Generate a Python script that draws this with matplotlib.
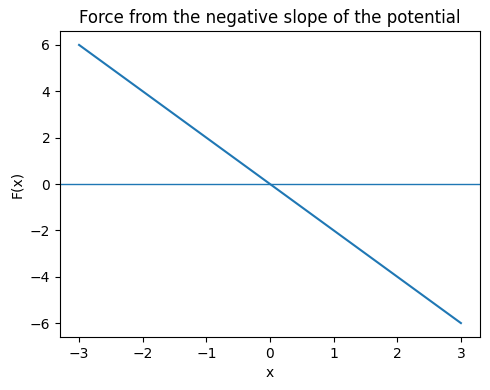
import matplotlib
matplotlib.use("Agg")
import matplotlib.pyplot as plt

x = [-3, 3]
force = [6, -6]
zero_level = 0

fig, ax = plt.subplots(figsize=(4.9, 3.9), dpi=100)
ax.plot(x, force)
ax.axhline(zero_level, linewidth=1)
ax.set_xlabel("x")
ax.set_ylabel("F(x)")
ax.set_title("Force from the negative slope of the potential")
fig.subplots_adjust(left=0.1224, right=0.9796, top=0.9205, bottom=0.1359)
fig.savefig("out.png")
